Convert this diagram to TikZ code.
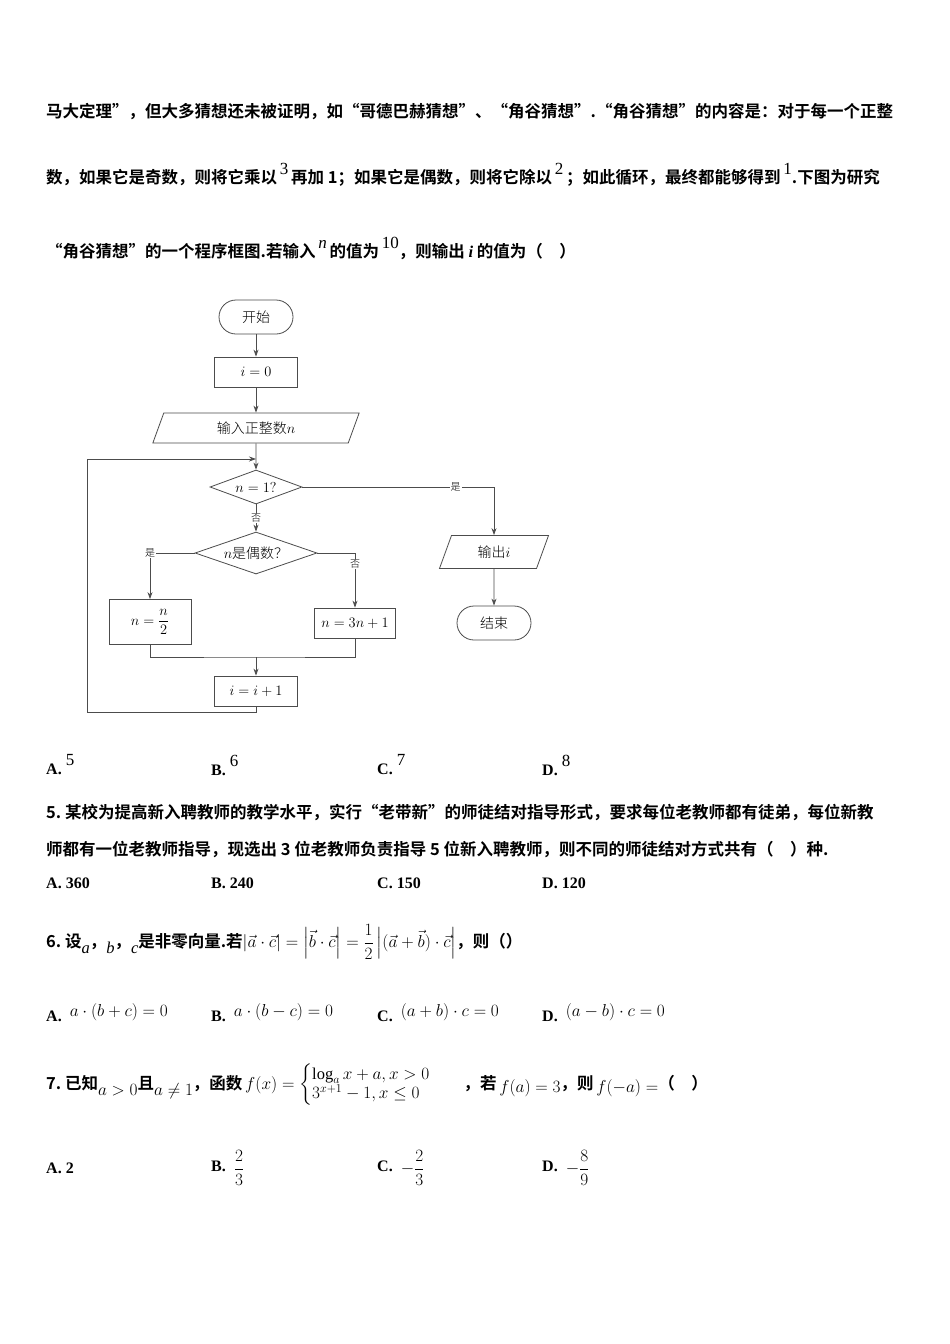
\documentclass[tikz,border=0pt]{standalone}
\usepackage{fontspec}
\setmainfont{Liberation Serif}
\newfontfamily\cjkb{Noto Sans CJK SC}[UprightFont={* Bold}]
\newfontfamily\cjkl{Noto Sans CJK SC}[UprightFont={* Light}]
\usepackage{amsmath}
\usetikzlibrary{shapes.geometric,arrows.meta}
\newcommand{\up}[1]{\raisebox{9pt}{\normalfont\fontsize{17}{17}\selectfont #1}}
\begin{document}
\begin{tikzpicture}[x=1pt,y=-1pt,
  txt/.style={anchor=west,inner sep=0,font=\cjkb\fontsize{16.5}{16.5}\selectfont},
  opt/.style={anchor=west,inner sep=0,font=\bfseries\fontsize{16}{16}\selectfont},
  fc/.style={draw=black!70,line width=0.8pt,font=\cjkl\fontsize{14}{14}\selectfont,inner sep=0},
  box/.style={fc,rectangle,minimum width=83,minimum height=30},
  term/.style={fc,rectangle,rounded corners=17,minimum width=74,minimum height=34},
  io/.style={fc,trapezium,trapezium left angle=70,trapezium right angle=110,minimum height=30},
  dec/.style={fc,diamond,aspect=2.7},
  ln/.style={draw=black!70,line width=0.8pt},
  ar/.style={ln,-{Stealth[length=7pt,width=5pt]}},
  lab/.style={font=\cjkl\fontsize{10}{10}\selectfont,fill=white,inner sep=1}]
\useasboundingbox (0,0) rectangle (950,1344);
\fill[white] (0,0) rectangle (950,1344);
% text
\node[txt] (t1) at (46,112) {马大定理”，但大多猜想还未被证明，如“哥德巴赫猜想”、“角谷猜想”.“角谷猜想”的内容是：对于每一个正整};
\node[txt] (t2) at (46,175) {数，如果它是奇数，则将它乘以\,\up{3}\,再加 1；如果它是偶数，则将它除以\,\up{2}\,；如此循环，最终都能够得到\,\up{1}.下图为研究};
\node[txt] (t3) at (46,248) {“角谷猜想”的一个程序框图.若输入\,\up{\itshape n}\,的值为\,\up{10}，则输出 {\normalfont\bfseries\itshape i} 的值为（\quad）};
% flowchart
\node[term] (st) at (256,317) {开始};
\node[box] (i0) at (256,372) {$i=0$};
\node[io,minimum width=115] (in) at (256,428) {输入正整数$n$};
\node[dec,minimum width=92,minimum height=34] (d1) at (256,487) {$n=1?$};
\node[dec,minimum width=122,minimum height=42] (d2) at (256,553) {$n$是偶数？};
\node[box,minimum width=82,minimum height=45] (bl) at (150,622) {$n=\dfrac{n}{2}$};
\node[box,minimum width=81] (br) at (355,623) {$n=3n+1$};
\node[box] (ii) at (256,691) {$i=i+1$};
\node[io,minimum width=110] (out) at (494,552) {输出$i$};
\node[term] (en) at (494,623) {结束};
\coordinate (c1) at (256,712); \coordinate (c2) at (87,712);
\coordinate (c3) at (87,459); \coordinate (c4) at (256,459);
\coordinate (m) at (256,657);
\draw[ar] (st) -- (i0);
\draw[ar] (i0) -- (in);
\draw[ar] (in) -- (d1);
\draw[ar] (d1) -- node[lab]{否} (d2);
\draw[ar] (d2.west) -| node[lab,pos=0.5]{是} (bl.north);
\draw[ar] (d2.east) -| node[lab,pos=0.6]{否} (br.north);
\draw[ln] (bl.south) |- (m) -| (br.south);
\draw[ar] (m) -- (ii);
\draw[ar] (ii.south) -- (c1) -- (c2) -- (c3) -- (c4);
\draw[ar] (d1.east) -| node[lab,pos=0.4]{是} (out.north);
\draw[ar] (out) -- (en);
% answers 4
\node[opt] (a4) at (46,765) {A.\ \up{\mdseries 5}};
\node[opt] (b4) at (211,765) {B.\ \up{\mdseries 6}};
\node[opt] (c4t) at (377,765) {C.\ \up{\mdseries 7}};
\node[opt] (d4) at (542,765) {D.\ \up{\mdseries 8}};
% q5
\node[txt] (q5a) at (46,812) {5.\ 某校为提高新入聘教师的教学水平，实行“老带新”的师徒结对指导形式，要求每位老教师都有徒弟，每位新教};
\node[txt] (q5b) at (46,849) {师都有一位老教师指导，现选出 3 位老教师负责指导 5 位新入聘教师，则不同的师徒结对方式共有（\quad）种.};
\node[opt] at (46,883) {A.\ 360};
\node[opt] at (211,883) {B.\ 240};
\node[opt] at (377,883) {C.\ 150};
\node[opt] at (542,883) {D.\ 120};
% q6
\node[txt] (q6) at (46,942) {6.\ 设\raisebox{-6pt}{\normalfont\itshape a}，\raisebox{-6pt}{\normalfont\itshape b}，\raisebox{-6pt}{\normalfont\itshape c}是非零向量.若$\left|\vec a\cdot\vec c\right|=\left|\vec b\cdot\vec c\right|=\dfrac12\left|(\vec a+\vec b)\cdot\vec c\right|$，则（）};
\node[opt] at (46,1013) {A.\ \ \raisebox{5pt}{\mdseries$a\cdot(b+c)=0$}};
\node[opt] at (211,1013) {B.\ \ \raisebox{5pt}{\mdseries$a\cdot(b-c)=0$}};
\node[opt] at (377,1013) {C.\ \ \raisebox{5pt}{\mdseries$(a+b)\cdot c=0$}};
\node[opt] at (542,1013) {D.\ \ \raisebox{5pt}{\mdseries$(a-b)\cdot c=0$}};
% q7
\node[txt] (q7) at (46,1085) {7.\ 已知\raisebox{-6pt}{\normalfont$a>0$}且\raisebox{-6pt}{\normalfont$a\neq1$}，函数\,$f(x)=\begin{cases}\log_a x+a, x>0\\ 3^{x+1}-1, x\le 0\end{cases}$\quad ，若\,\raisebox{-3pt}{$f(a)=3$}，则\,\raisebox{-3pt}{$f(-a)=$}（\quad）};
\node[opt] at (46,1168) {A.\ 2};
\node[opt] at (211,1168) {B.\ \ \raisebox{-2pt}{\mdseries$\dfrac23$}};
\node[opt] at (377,1168) {C.\ \ \raisebox{-2pt}{\mdseries$-\dfrac23$}};
\node[opt] at (542,1168) {D.\ \ \raisebox{-2pt}{\mdseries$-\dfrac89$}};
\end{tikzpicture}
\end{document}
